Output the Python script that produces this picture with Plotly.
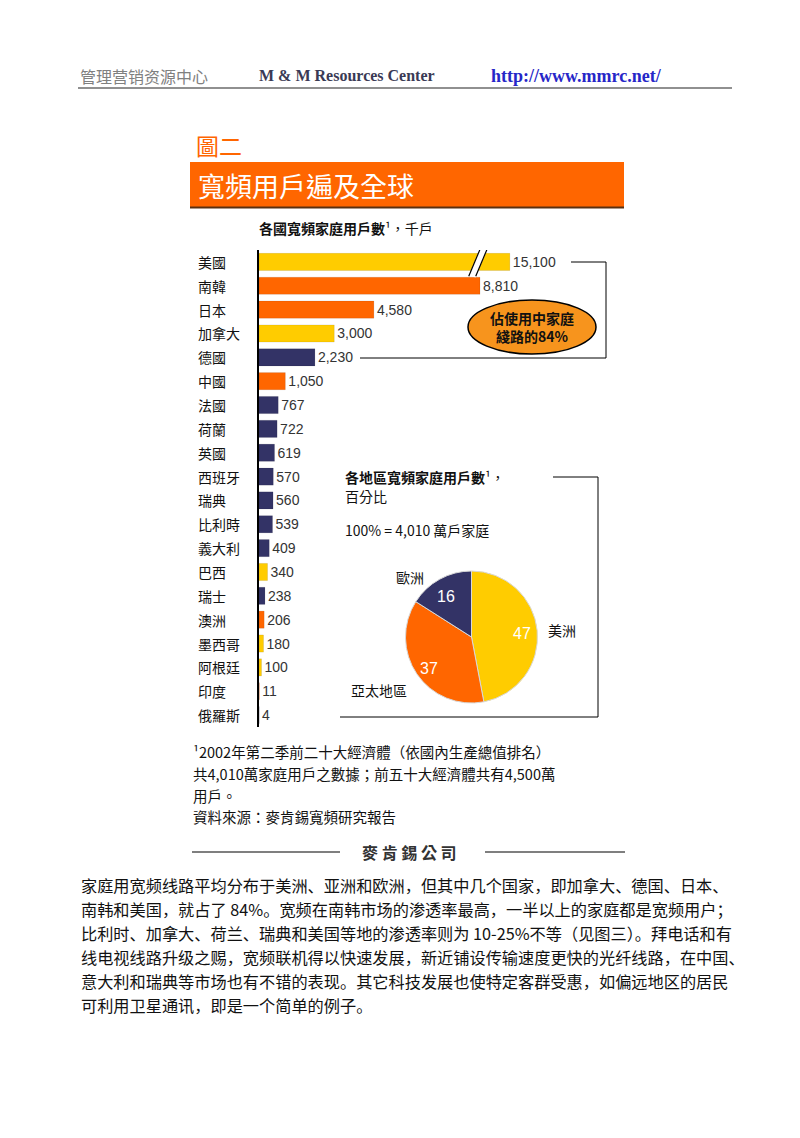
import plotly.graph_objects as go

W, H = 800, 1138

# ---------------- data ----------------
countries = ["美國", "南韓", "日本", "加拿大", "德國", "中國", "法國", "荷蘭", "英國", "西班牙",
             "瑞典", "比利時", "義大利", "巴西", "瑞士", "澳洲", "墨西哥", "阿根廷", "印度", "俄羅斯"]
households = [15100, 8810, 4580, 3000, 2230, 1050, 767, 722, 619, 570,
              560, 539, 409, 340, 238, 206, 180, 100, 11, 4]
country_region = ["美洲", "亞太", "亞太", "美洲", "歐洲", "亞太", "歐洲", "歐洲", "歐洲", "歐洲",
                  "歐洲", "歐洲", "歐洲", "美洲", "歐洲", "亞太", "美洲", "美洲", "亞太", "歐洲"]
pie_labels = ["美洲", "亞太地區", "歐洲"]
pie_values = [47, 37, 16]

axis_cap = 10000     # broken-axis display cap for the largest bar
break_at = 8600      # where the break marks are drawn

region_color = {"美洲": "#FFCC00", "亞太": "#FF6600", "歐洲": "#333366"}
pie_colors = ["#FFCC00", "#FF6600", "#333366"]

TC = "Noto Sans CJK TC"
SC = "Noto Sans CJK SC"
LAT = "Liberation Sans"


def px(x):
    return x / W


def py(y):
    return 1 - y / H


ppu = 221 / 8810  # pixels per unit on the bar axis
x_left, x_right = 259, 624
y_top, y_bot = 250, 727

fig = go.Figure()

disp = [min(v, axis_cap) for v in households]
fig.add_trace(go.Bar(
    y=countries, x=disp, orientation="h",
    marker=dict(color=[region_color[r] for r in country_region],
                line=dict(color="rgba(0,0,0,0.15)", width=0.6)),
    width=0.72,
    text=[f"{v:,}" for v in households],
    textposition="outside", constraintext="none", cliponaxis=False,
    textfont=dict(family=LAT, size=14, color="#333333"),
    hoverinfo="skip", showlegend=False,
))

fig.add_trace(go.Pie(
    labels=pie_labels, values=pie_values, sort=False, direction="clockwise", rotation=0,
    marker=dict(colors=pie_colors, line=dict(color="#d8d8d8", width=1)),
    textinfo="none",
    domain=dict(x=[px(405), px(538)], y=[py(703), py(571)]),
    showlegend=False, hoverinfo="skip",
))

fig.update_layout(
    width=W, height=H, margin=dict(l=0, r=0, t=0, b=0),
    paper_bgcolor="white", plot_bgcolor="white",
    xaxis=dict(domain=[px(x_left), px(x_right)], range=[0, (x_right - x_left) / ppu],
               visible=False, showgrid=False, zeroline=False, fixedrange=True),
    yaxis=dict(domain=[py(y_bot), py(y_top)], type="category", range=[len(countries) - 0.5, -0.5],
               showticklabels=False, showgrid=False, zeroline=False,
               showline=True, linecolor="black", linewidth=2, ticks=""),
    bargap=0.28,
)

ann = []
shapes = []


def text(x, y, s, size=14, color="#111111", family=TC, xanchor="left", yanchor="middle", align="left"):
    ann.append(dict(x=px(x), y=py(y), xref="paper", yref="paper", text=s, showarrow=False,
                    xanchor=xanchor, yanchor=yanchor, align=align,
                    font=dict(family=family, size=size, color=color)))


def line(x0, y0, x1, y1, color="black", width=1):
    shapes.append(dict(type="line", xref="paper", yref="paper", x0=px(x0), y0=py(y0),
                       x1=px(x1), y1=py(y1), line=dict(color=color, width=width)))


# header
text(78, 76, "管理营销资源中心", size=16, color="#808080", family=SC)
text(257, 76, "<b>M &amp; M Resources Center</b>", size=16, color="#3a3a55", family="Liberation Serif")
text(489, 76, "<b>http://www.mmrc.net/</b>", size=18, color="#2626c8", family="Liberation Serif")
line(78, 88, 732, 88, color="#222222", width=1.2)

# title + banner
text(194, 145, "圖二", size=23, color="#FF6600", family=TC)
shapes.append(dict(type="rect", xref="paper", yref="paper", x0=px(190), x1=px(624),
                   y0=py(207), y1=py(162), fillcolor="#FF6600", line=dict(width=0)))
line(190, 207.5, 624, 207.5, color="#5a3010", width=2)
text(196, 185, "寬頻用戶遍及全球", size=27, color="white", family=TC)

# bar subtitle
text(257, 228, "<b>各國寬頻家庭用戶數</b>¹，千戶", size=14, color="#111111")

# country labels
for c in countries:
    ann.append(dict(x=px(196), y=c, xref="paper", yref="y", text=c, showarrow=False,
                    xanchor="left", yanchor="middle",
                    font=dict(family=TC, size=14, color="#111111")))

# break marks on the truncated bar
dx = 6 / ppu
gap = 7 / ppu
for off, col, w in [(gap / 2, "white", 7), (0, "black", 1.2), (gap, "black", 1.2)]:
    shapes.append(dict(type="line", xref="x", yref="y",
                       x0=break_at + off + dx, y0=-0.6, x1=break_at + off - dx, y1=0.6,
                       line=dict(color=col, width=w)))

# connector bracket + ellipse callout
line(571, 262, 606, 262)
line(606, 262, 606, 358)
line(606, 358, 360, 358)
shapes.append(dict(type="circle", xref="paper", yref="paper", x0=px(468), x1=px(596),
                   y0=py(354), y1=py(300), fillcolor="#F7941D", line=dict(color="black", width=1.5)))
text(532, 327, "<b>佔使用中家庭<br>綫路的84%</b>", size=14, color="#111111",
     xanchor="center", align="center")

# pie box and texts
line(553, 477, 598, 477)
line(598, 477, 598, 717)
line(598, 717, 340, 717)
text(343, 477, "<b>各地區寬頻家庭用戶數</b>¹，", size=14)
text(343, 496, "百分比", size=14)
text(343, 530, "100% = 4,010 萬戶家庭", size=14)
text(394, 577, "歐洲", size=14)
text(546, 630, "美洲", size=14)
text(349, 690, "亞太地區", size=14)

# pie value labels (white, inside slices)
pie_label_pos = [(522, 633), (429, 668), (446, 596)]
for v, (lx, ly) in zip(pie_values, pie_label_pos):
    text(lx, ly, str(v), size=16, color="white", family=LAT, xanchor="center")

# footnotes
text(191, 751, "¹2002年第二季前二十大經濟體（依國內生產總值排名）", size=14.5)
text(191, 773, "共4,010萬家庭用戶之數據；前五十大經濟體共有4,500萬", size=14.5)
text(191, 795, "用戶。", size=14.5)
text(191, 816, "資料來源：麥肯錫寬頻研究報告", size=14.5)

line(192, 852, 340, 852, width=1.2)
line(485, 852, 625, 852, width=1.2)
text(410, 852, "<b>麥 肯 錫 公 司</b>", size=16, color="#333333", xanchor="center")

# paragraph
para = [
    "家庭用宽频线路平均分布于美洲、亚洲和欧洲，但其中几个国家，即加拿大、德国、日本、",
    "南韩和美国，就占了 84%。宽频在南韩市场的渗透率最高，一半以上的家庭都是宽频用户；",
    "比利时、加拿大、荷兰、瑞典和美国等地的渗透率则为 10-25%不等（见图三）。拜电话和有",
    "线电视线路升级之赐，宽频联机得以快速发展，新近铺设传输速度更快的光纤线路，在中国、",
    "意大利和瑞典等市场也有不错的表现。其它科技发展也使特定客群受惠，如偏远地区的居民",
    "可利用卫星通讯，即是一个简单的例子。",
]
for i, s in enumerate(para):
    text(79, 885 + 24 * i, s, size=16.2, color="#111111", family=SC)

fig.update_layout(annotations=ann, shapes=shapes)
fig.write_html("out.html")
